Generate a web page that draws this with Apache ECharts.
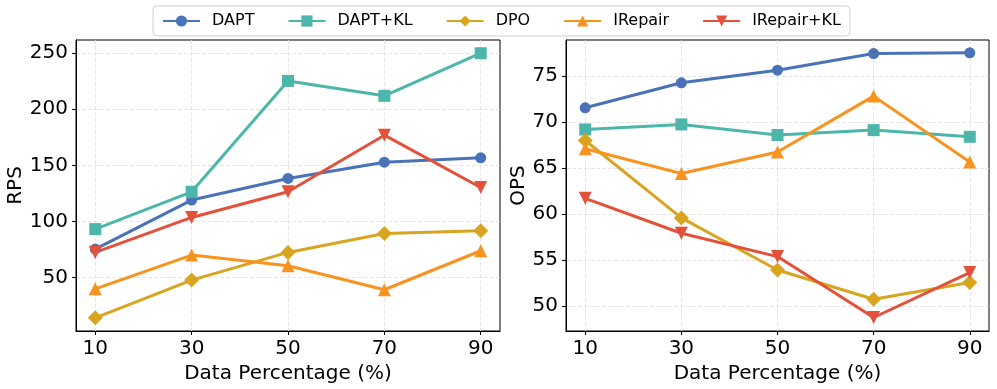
<!DOCTYPE html>
<html>
<head>
<meta charset="utf-8">
<script src="https://cdn.jsdelivr.net/npm/echarts@6/dist/echarts.min.js"></script>
<style>
  html, body { margin: 0; padding: 0; background: #fff; }
  #chart { width: 997px; height: 389px; }
</style>
</head>
<body>
<div id="chart"></div>
<script>
// x positions (data percentage)
const percents = [10, 30, 50, 70, 90];
const seriesNames = ['DAPT', 'DAPT+KL', 'DPO', 'IRepair', 'IRepair+KL'];

// RPS (left panel)
const rpsDapt = [75.3, 119, 138.3, 152.8, 156.7];
const rpsDaptKl = [93.1, 126.4, 225.3, 212, 250];
const rpsDpo = [14, 47.6, 72.3, 89.2, 91.6];
const rpsIrepair = [39.8, 69.9, 60.4, 39, 73.8];
const rpsIrepairKl = [72.3, 103.5, 126.4, 176.9, 130.2];

// OPS (right panel)
const opsDapt = [71.56, 74.28, 75.65, 77.46, 77.54];
const opsDaptKl = [69.2, 69.75, 68.6, 69.13, 68.4];
const opsDpo = [68.0, 59.57, 53.9, 50.72, 52.54];
const opsIrepair = [67.1, 64.4, 66.74, 72.83, 65.65];
const opsIrepairKl = [61.7, 57.9, 55.36, 48.73, 53.62];

const rpsTicks = [50, 100, 150, 200, 250];
const opsTicks = [50, 55, 60, 65, 70, 75];

const colors = ['#4a72b8', '#4db6ab', '#d9a520', '#f7931e', '#e4513a'];
const symbols = ['circle', 'rect', 'diamond', 'triangle', 'triangle'];
const symbolSizes = [11, 12, 15, 13, 13];
const symbolRot = [0, 0, 0, 0, 180];

const font = 'DejaVu Sans';

function pairs(vals) {
  return percents.map((p, i) => [p, vals[i]]);
}

function xAxisFor(idx) {
  return {
    type: 'value', gridIndex: idx, min: 6, max: 94,
    name: 'Data Percentage (%)', nameLocation: 'middle', nameGap: 33,
    nameTextStyle: { fontFamily: font, fontSize: 20, color: '#000' },
    axisLine: { show: true, onZero: false, lineStyle: { color: '#000', width: 1 } },
    axisTick: { show: true, length: 4, customValues: percents, lineStyle: { color: '#000' } },
    axisLabel: { customValues: percents, fontFamily: font, fontSize: 20, color: '#000', margin: 8 },
    splitLine: { show: true, lineStyle: { color: '#e0e0e0', type: [4, 2], width: 0.8 } }
  };
}

function yAxisFor(idx, name, min, max, ticks) {
  return {
    type: 'value', gridIndex: idx, min: min, max: max,
    name: name, nameLocation: 'middle', nameGap: idx === 0 ? 40 : 36,
    nameTextStyle: { fontFamily: font, fontSize: 20, color: '#000' },
    axisLine: { show: true, lineStyle: { color: '#000', width: 1 } },
    axisTick: { show: true, length: 4, customValues: ticks, lineStyle: { color: '#000' } },
    axisLabel: { customValues: ticks, fontFamily: font, fontSize: 20, color: '#000', margin: 8 },
    splitLine: { show: true, lineStyle: { color: '#e0e0e0', type: [4, 2], width: 0.8 } }
  };
}

function makeSeries(idx, lists) {
  return lists.map((vals, k) => ({
    name: seriesNames[k],
    type: 'line',
    xAxisIndex: idx, yAxisIndex: idx,
    data: pairs(vals),
    symbol: symbols[k],
    symbolSize: symbolSizes[k],
    symbolRotate: symbolRot[k],
    showAllSymbol: true,
    lineStyle: { color: colors[k], width: 3 },
    itemStyle: { color: colors[k] },
    animation: false
  }));
}

const chart = echarts.init(document.getElementById('chart'));
chart.setOption({
  backgroundColor: '#fff',
  animation: false,
  legend: {
    top: 6, left: 153,
    data: seriesNames,
    itemWidth: 37, itemHeight: 14, itemGap: 33,
    padding: [7, 9, 7, 9],
    borderColor: '#cfcfcf', borderWidth: 1, borderRadius: 4,
    textStyle: { fontFamily: font, fontSize: 16, color: '#000', padding: [0, 0, 0, 7] }
  },
  grid: [
    { left: 76, right: 497, top: 40, bottom: 57, show: true, borderColor: '#000', borderWidth: 1 },
    { left: 566, right: 8, top: 40, bottom: 57, show: true, borderColor: '#000', borderWidth: 1 }
  ],
  xAxis: [xAxisFor(0), xAxisFor(1)],
  yAxis: [
    yAxisFor(0, 'RPS', 2.2, 261.8, rpsTicks),
    yAxisFor(1, 'OPS', 47.26, 78.94, opsTicks)
  ],
  series: makeSeries(0, [rpsDapt, rpsDaptKl, rpsDpo, rpsIrepair, rpsIrepairKl])
    .concat(makeSeries(1, [opsDapt, opsDaptKl, opsDpo, opsIrepair, opsIrepairKl]))
});
</script>
</body>
</html>
